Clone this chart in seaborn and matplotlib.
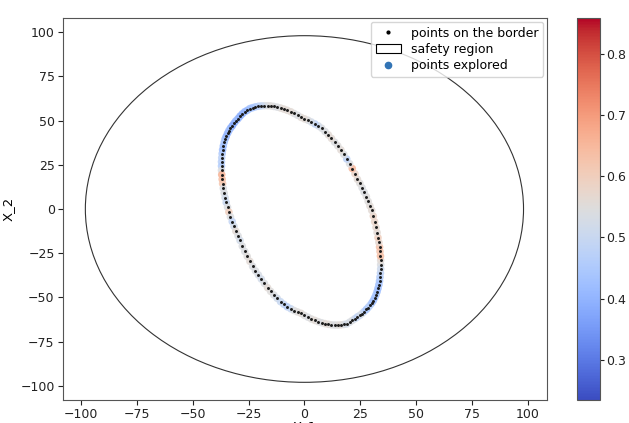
import matplotlib
matplotlib.use("Agg")
import matplotlib.pyplot as plt
import seaborn as sns
import pandas as pd
from matplotlib.patches import Circle, Patch
from matplotlib.lines import Line2D
from matplotlib.cm import ScalarMappable
from matplotlib.colors import Normalize

# ---- data ----
border_x = [34.1, 34.1, 34.0, 33.8, 33.6, 33.3, 32.9, 32.5, 32.0, 31.4, 30.8, 30.1,
            29.3, 28.5, 27.7, 26.7, 25.8, 24.8, 23.7, 22.6, 21.4, 20.2, 18.9, 17.6,
            16.3, 14.9, 13.5, 12.1, 10.7, 9.2, 7.7, 6.2, 4.7, 3.1, 1.6, 0.0,
            -1.5, -3.1, -4.6, -6.1, -7.7, -9.2, -10.7, -12.2, -13.7, -15.1, -16.5, -17.9,
            -19.3, -20.6, -21.9, -23.2, -24.4, -25.6, -26.7, -27.8, -28.8, -29.7, -30.7, -31.5,
            -32.3, -33.1, -33.8, -34.4, -35.0, -35.5, -35.9, -36.3, -36.6, -36.8, -37.0, -37.1,
            -37.1, -37.1, -37.0, -36.8, -36.6, -36.3, -35.9, -35.5, -35.0, -34.4, -33.8, -33.1,
            -32.3, -31.5, -30.7, -29.7, -28.8, -27.8, -26.7, -25.6, -24.4, -23.2, -21.9, -20.6,
            -19.3, -17.9, -16.5, -15.1, -13.7, -12.2, -10.7, -9.2, -7.7, -6.1, -4.6, -3.1,
            -1.5, 0.0, 1.6, 3.1, 4.7, 6.2, 7.7, 9.2, 10.7, 12.1, 13.5, 14.9,
            16.3, 17.6, 18.9, 20.2, 21.4, 22.6, 23.7, 24.8, 25.8, 26.7, 27.7, 28.5,
            29.3, 30.1, 30.8, 31.4, 32.0, 32.5, 32.9, 33.3, 33.6, 33.8, 34.0, 34.1]
border_y = [-31.5, -29.0, -26.6, -24.0, -21.5, -18.9, -16.2, -13.3, -10.4, -7.2, -4.0, -0.8,
            1.7, 4.3, 7.0, 9.5, 12.0, 14.5, 16.8, 19.9, 22.9, 25.6, 28.3, 30.9,
            33.4, 35.7, 37.8, 39.9, 41.9, 43.8, 45.7, 47.0, 48.1, 49.2, 50.2, 51.0,
            51.8, 53.0, 54.0, 55.0, 55.8, 56.5, 57.1, 57.6, 58.0, 58.3, 58.4, 58.4,
            58.3, 58.1, 57.8, 57.3, 56.8, 55.8, 55.0, 53.8, 52.5, 51.1, 49.8, 48.5,
            47.0, 45.7, 44.3, 42.8, 41.0, 39.5, 37.7, 35.6, 33.5, 31.3, 29.0, 26.7,
            24.3, 21.9, 19.4, 16.8, 14.3, 11.7, 9.0, 6.4, 3.7, 1.0, -1.7, -4.4,
            -7.1, -9.8, -12.5, -15.2, -17.8, -21.0, -24.0, -26.8, -29.6, -32.4, -35.0, -37.3,
            -39.6, -42.1, -44.5, -46.6, -48.6, -50.5, -52.4, -53.9, -55.3, -56.4, -57.4, -58.2,
            -59.0, -60.2, -61.2, -62.2, -63.0, -63.7, -64.3, -64.8, -65.2, -65.5, -65.6, -65.6,
            -65.5, -65.3, -65.0, -64.0, -63.0, -62.0, -61.0, -60.1, -59.1, -58.0, -56.8, -55.7,
            -54.5, -53.2, -51.8, -50.2, -48.5, -46.7, -44.9, -42.8, -40.7, -38.5, -36.2, -33.9]
explored_value = [0.54, 0.56, 0.64, 0.62, 0.63, 0.57, 0.60, 0.56, 0.57, 0.58, 0.58, 0.56,
                  0.56, 0.55, 0.55, 0.54, 0.54, 0.55, 0.56, 0.58, 0.65, 0.54, 0.48, 0.54,
                  0.56, 0.55, 0.54, 0.56, 0.56, 0.54, 0.54, 0.52, 0.48, 0.52, 0.54, 0.56,
                  0.56, 0.54, 0.54, 0.56, 0.56, 0.56, 0.56, 0.54, 0.54, 0.55, 0.55, 0.53,
                  0.50, 0.48, 0.46, 0.44, 0.43, 0.42, 0.41, 0.40, 0.39, 0.40, 0.41, 0.40,
                  0.38, 0.40, 0.42, 0.41, 0.40, 0.42, 0.44, 0.43, 0.42, 0.45, 0.48, 0.47,
                  0.46, 0.54, 0.66, 0.64, 0.62, 0.54, 0.54, 0.52, 0.50, 0.54, 0.60, 0.54,
                  0.49, 0.52, 0.56, 0.54, 0.52, 0.54, 0.54, 0.55, 0.56, 0.54, 0.54, 0.53,
                  0.52, 0.54, 0.56, 0.55, 0.54, 0.52, 0.50, 0.49, 0.47, 0.50, 0.54, 0.55,
                  0.56, 0.55, 0.54, 0.55, 0.56, 0.55, 0.54, 0.56, 0.56, 0.55, 0.54, 0.55,
                  0.56, 0.54, 0.52, 0.53, 0.54, 0.51, 0.48, 0.51, 0.53, 0.48, 0.44, 0.46,
                  0.47, 0.44, 0.42, 0.43, 0.44, 0.43, 0.42, 0.43, 0.44, 0.46, 0.48, 0.51]
safety_radius = 98.0
color_min, color_max = 0.234, 0.859
legend_labels = ["points on the border", "safety region", "points explored"]

df = pd.DataFrame({"x": border_x, "y": border_y, "v": explored_value})

fig = plt.figure(figsize=(6.29, 4.23), dpi=100)
ax = fig.add_axes([63 / 629, 23 / 423, 484 / 629, 382 / 423])
cax = fig.add_axes([577 / 629, 23 / 423, 23 / 629, 382 / 423])

ax.add_patch(Circle((0, 0), safety_radius, fill=False, edgecolor="#333333", lw=0.8))

sns.scatterplot(data=df, x="x", y="y", hue="v", palette="coolwarm",
                hue_norm=(color_min, color_max), s=30, linewidth=0, alpha=0.85,
                legend=False, ax=ax)
sns.scatterplot(data=df, x="x", y="y", color="#1a1a1a", s=4.5, linewidth=0,
                legend=False, ax=ax)

ax.set_xlim(-108, 108.5)
ax.set_ylim(-108, 108)
ax.set_xticks([-100, -75, -50, -25, 0, 25, 50, 75, 100])
ax.set_yticks([-100, -75, -50, -25, 0, 25, 50, 75, 100])
ax.tick_params(labelsize=9, colors="#222222", length=3.5, width=0.8, pad=2.5)
ax.set_xlabel("X_1", fontsize=9.5, labelpad=-1)
ax.set_ylabel("X_2", fontsize=9.5, labelpad=4)
for sp in ax.spines.values():
    sp.set_color("#555555")
    sp.set_linewidth(0.8)

handles = [
    Line2D([], [], marker="o", linestyle="none", color="black", markersize=2),
    Patch(facecolor="white", edgecolor="black", linewidth=0.8),
    Line2D([], [], marker="o", linestyle="none", color="#3274b5", markersize=4.5),
]
ax.legend(handles, legend_labels, loc="upper right", fontsize=9,
          borderaxespad=0.3, handlelength=2.0, labelspacing=0.25)

sm = ScalarMappable(norm=Normalize(color_min, color_max), cmap="coolwarm")
cb = fig.colorbar(sm, cax=cax)
cb.set_ticks([0.3, 0.4, 0.5, 0.6, 0.7, 0.8])
cb.ax.tick_params(labelsize=9, colors="#222222", length=3, width=0.8, pad=1.5)
cb.outline.set_edgecolor("#555555")
cb.outline.set_linewidth(0.8)

fig.savefig("out.png", dpi=100)
